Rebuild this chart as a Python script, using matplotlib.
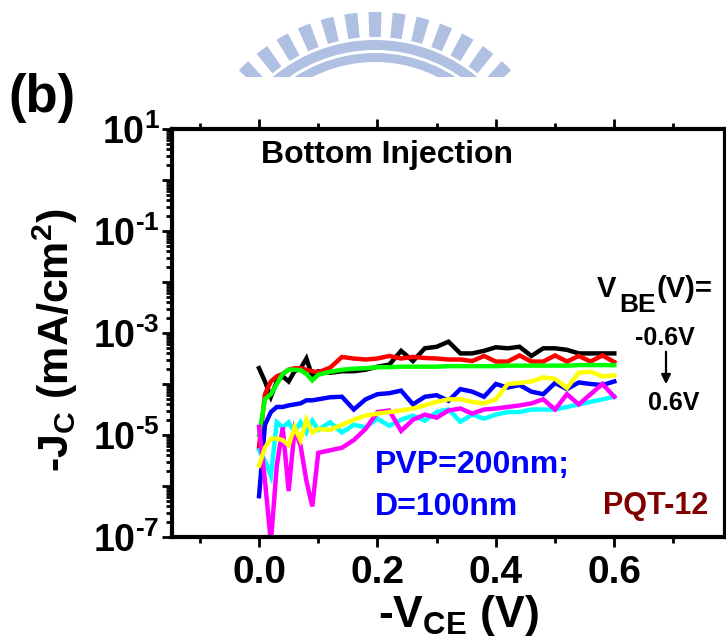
import numpy as np
import matplotlib
matplotlib.use('Agg')
import matplotlib.pyplot as plt
from matplotlib.ticker import LogLocator, FuncFormatter, MultipleLocator, FormatStrFormatter, NullFormatter
from matplotlib.patches import Wedge, Rectangle

plt.rcParams['font.family'] = 'Liberation Sans'
plt.rcParams['font.weight'] = 'bold'
plt.rcParams['mathtext.fontset'] = 'custom'
plt.rcParams['mathtext.rm'] = 'Liberation Sans:bold'
plt.rcParams['mathtext.it'] = 'Liberation Sans:bold'
plt.rcParams['mathtext.bf'] = 'Liberation Sans:bold'
plt.rcParams['mathtext.default'] = 'rm'

# -V_CE sweep (V)
vce = [0.00, 0.01, 0.02, 0.03, 0.04, 0.05, 0.06, 0.07, 0.08, 0.09, 0.10,
       0.12, 0.14, 0.16, 0.18, 0.20, 0.22, 0.24, 0.26, 0.28, 0.30,
       0.32, 0.34, 0.36, 0.38, 0.40, 0.42, 0.44, 0.46, 0.48, 0.50,
       0.52, 0.54, 0.56, 0.58, 0.60]

# log10 of -J_C (mA/cm^2), one trace per V_BE step
log_j_black = [-3.69, -3.95, -4.25, -3.95, -3.85, -3.95, -3.75, -3.70, -3.50, -3.85, -3.75,
               -3.78, -3.75, -3.75, -3.72, -3.66, -3.62, -3.35, -3.55, -3.30, -3.27,
               -3.17, -3.40, -3.40, -3.35, -3.28, -3.30, -3.27, -3.45, -3.30, -3.30,
               -3.33, -3.40, -3.40, -3.40, -3.40]
log_j_red = [-5.23, -4.20, -3.95, -3.85, -3.80, -3.72, -3.69, -3.69, -3.72, -3.75, -3.77,
             -3.68, -3.47, -3.50, -3.52, -3.50, -3.45, -3.50, -3.47, -3.49, -3.50,
             -3.52, -3.52, -3.55, -3.45, -3.56, -3.56, -3.44, -3.56, -3.56, -3.44,
             -3.56, -3.45, -3.56, -3.44, -3.57]
log_j_green = [-5.00, -4.30, -4.20, -4.00, -3.80, -3.72, -3.72, -3.73, -3.80, -3.93, -3.82,
               -3.76, -3.72, -3.70, -3.69, -3.67, -3.67, -3.66, -3.66, -3.66, -3.66,
               -3.65, -3.65, -3.65, -3.65, -3.65, -3.64, -3.64, -3.64, -3.64, -3.64,
               -3.64, -3.63, -3.63, -3.63, -3.63]
log_j_blue = [-6.20, -4.80, -4.55, -4.45, -4.45, -4.42, -4.40, -4.38, -4.32, -4.32, -4.30,
              -4.26, -4.25, -4.50, -4.30, -4.20, -4.18, -4.13, -4.40, -4.25, -4.22,
              -4.33, -4.10, -4.15, -4.25, -4.00, -4.07, -4.02, -4.15, -4.20, -3.98,
              -4.10, -3.97, -4.00, -4.02, -3.95]
log_j_cyan = [-5.30, -5.50, -5.80, -4.75, -4.85, -4.75, -4.95, -4.75, -4.95, -4.72, -4.90,
              -4.75, -4.95, -4.80, -4.85, -4.68, -4.82, -4.70, -4.62, -4.72, -4.55,
              -4.50, -4.74, -4.60, -4.68, -4.60, -4.55, -4.55, -4.50, -4.50, -4.50,
              -4.45, -4.40, -4.35, -4.30, -4.25]
log_j_magenta = [-4.84, -5.90, -7.10, -5.60, -4.85, -6.10, -4.90, -5.20, -5.90, -6.40, -5.35,
                 -5.30, -5.25, -5.10, -4.88, -4.55, -4.52, -4.92, -4.70, -4.60, -4.66,
                 -4.52, -4.48, -4.58, -4.50, -4.48, -4.45, -4.42, -4.38, -4.30, -4.50,
                 -4.20, -4.40, -4.20, -4.00, -4.25]
log_j_yellow = [-5.60, -5.25, -5.07, -5.07, -5.10, -5.20, -4.85, -5.10, -4.70, -4.95, -4.88,
                -4.90, -4.80, -4.70, -4.62, -4.58, -4.55, -4.52, -4.48, -4.42, -4.35,
                -4.30, -4.30, -4.35, -4.38, -4.30, -4.00, -3.98, -3.95, -3.87, -3.90,
                -4.08, -3.78, -3.76, -3.85, -3.83]

traces = [
    (log_j_black, '#000000'),
    (log_j_red, '#ff0000'),
    (log_j_green, '#00ff00'),
    (log_j_blue, '#0000ff'),
    (log_j_cyan, '#00ffff'),
    (log_j_magenta, '#ff00ff'),
    (log_j_yellow, '#ffff00'),
]

W, H = 726, 644


def fx(px):
    return px / W


def fy(py):
    return 1 - py / H


fig = plt.figure(figsize=(W / 100, H / 100), dpi=100)

# faint logo arc at the top of the page
wm = fig.add_axes([0, 0, 1, 1], zorder=-1)
wm.set_xlim(0, W)
wm.set_ylim(0, H)
wm.axis('off')
logo = '#b0c0e2'
cx, cy = 375, H - 200
clip = Rectangle((0, H - 77), W, 77, transform=wm.transData)
shapes = []
for k in range(-7, 8):
    a = 90 + k * 7.4
    shapes.append(Wedge((cx, cy), 188, a - 2.0, a + 2.0, width=25))
shapes.append(Wedge((cx, cy), 160, 0, 180, width=10))
shapes.append(Wedge((cx, cy), 147, 0, 180, width=9))
for s in shapes:
    s.set_facecolor(logo)
    s.set_edgecolor('none')
    wm.add_patch(s)
    s.set_clip_path(clip)

ax = fig.add_axes([fx(172), fy(537), (725 - 172) / W, (537 - 129) / H])
for ys, c in traces:
    ax.plot(vce, 10.0 ** np.array(ys), color=c, lw=3.2, solid_joinstyle='miter')

ax.set_yscale('log')
ax.set_xlim(-0.147, 0.787)
ax.set_ylim(1e-7, 1e1)

ax.xaxis.set_major_locator(MultipleLocator(0.2))
ax.xaxis.set_minor_locator(MultipleLocator(0.1))
ax.xaxis.set_major_formatter(FormatStrFormatter('%.1f'))
ax.yaxis.set_major_locator(LogLocator(base=10, numticks=20))
ax.yaxis.set_minor_locator(LogLocator(base=10, subs=np.arange(2, 10), numticks=20))
ax.yaxis.set_minor_formatter(NullFormatter())


def ylab(v, pos):
    e = int(round(np.log10(v)))
    if e % 2 == 0:
        return ''
    return r'$10^{\text{%d}}$' % e


ax.yaxis.set_major_formatter(FuncFormatter(ylab))
ax.tick_params(which='both', direction='out', width=2, top=True, right=False)
ax.tick_params(which='major', length=7)
ax.tick_params(which='minor', length=4)
ax.tick_params(axis='x', labelsize=28, pad=6)
ax.tick_params(axis='y', labelsize=27, pad=2)
for sp in ax.spines.values():
    sp.set_linewidth(3)

fig.text(fx(458), fy(615), '-V$_{CE}$ (V)', fontsize=32, ha='center', va='center')
fig.text(fx(55), fy(340), '-J$_C$ (mA/cm$^2$)', fontsize=31, rotation=90,
         ha='center', va='center')
fig.text(fx(42), fy(98), '(b)', fontsize=38, ha='center', va='center')

fig.text(fx(387), fy(155), 'Bottom Injection', fontsize=23, ha='center', va='center')
fig.text(fx(375), fy(465), 'PVP=200nm;', fontsize=23, color='#0000ff', va='center')
fig.text(fx(375), fy(507), 'D=100nm', fontsize=23, color='#0000ff', va='center')
fig.text(fx(603), fy(506), 'PQT-12', fontsize=22, color='#800000', va='center')

fig.text(fx(597), fy(289), 'V', fontsize=21, va='center')
fig.text(fx(619), fy(305), 'BE', fontsize=19, va='center')
fig.text(fx(657), fy(289), '(V)=', fontsize=21, va='center')
fig.text(fx(665), fy(338), '-0.6V', fontsize=18, ha='center', va='center')
fig.text(fx(674), fy(403), '0.6V', fontsize=18, ha='center', va='center')
ax.annotate('', xy=(666, H - 387), xytext=(666, H - 349),
            xycoords='figure pixels', textcoords='figure pixels',
            arrowprops=dict(arrowstyle='-|>', lw=1.6, color='k', mutation_scale=14))

fig.savefig('out.png', dpi=100)
